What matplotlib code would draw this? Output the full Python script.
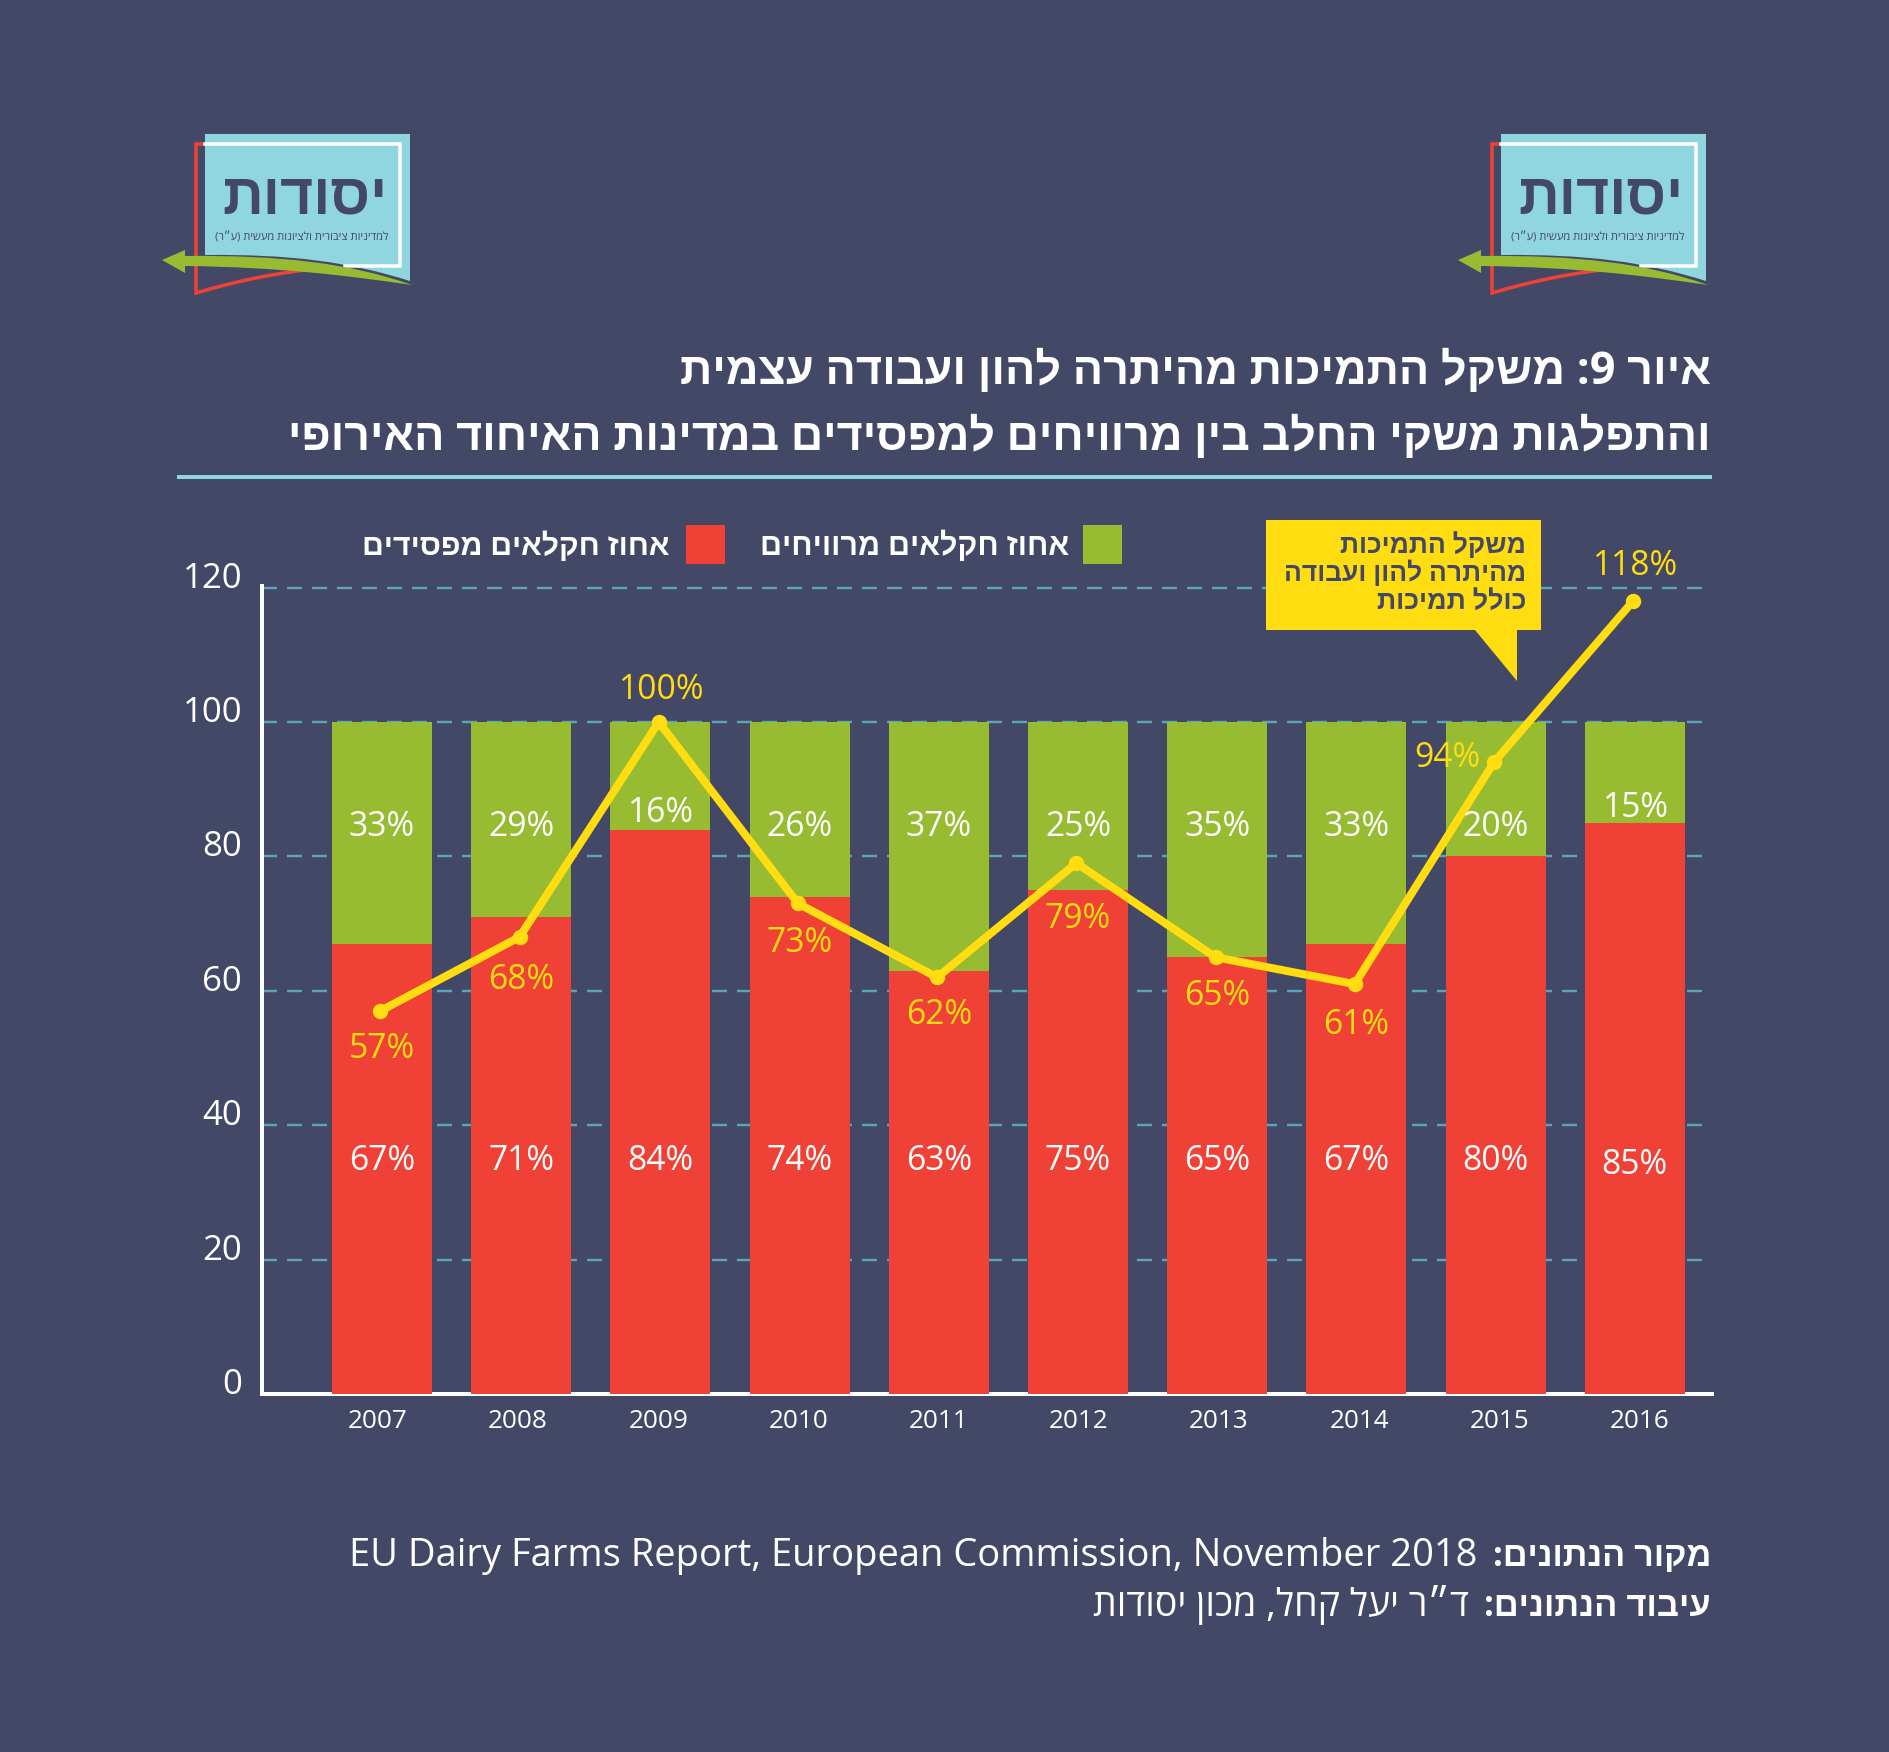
import matplotlib
matplotlib.use("Agg")
import matplotlib.pyplot as plt
from matplotlib.path import Path
from matplotlib.patches import PathPatch, Polygon, Rectangle

# ---- data ----
years = [2007, 2008, 2009, 2010, 2011, 2012, 2013, 2014, 2015, 2016]
loss_share = [67, 71, 84, 74, 63, 75, 65, 67, 80, 85]
profit_share = [33, 29, 16, 26, 37, 25, 35, 33, 20, 15]
support_weight = [57, 68, 100, 73, 62, 79, 65, 61, 94, 118]
y_ticks = [0, 20, 40, 60, 80, 100, 120]

title_lines = ["איור 9: משקל התמיכות מהיתרה להון ועבודה עצמית",
               "והתפלגות משקי החלב בין מרוויחים למפסידים במדינות האיחוד האירופי"]
legend_profit = "אחוז חקלאים מרוויחים"
legend_loss = "אחוז חקלאים מפסידים"
callout_lines = ["משקל התמיכות", "מהיתרה להון ועבודה", "כולל תמיכות"]
source_label = "מקור הנתונים:"
source_text = "EU Dairy Farms Report, European Commission, November 2018"
proc_label = "עיבוד הנתונים:"
proc_text = "ד״ר יעל קחל, מכון יסודות"
logo_name = "יסודות"
logo_sub = "למדיניות ציבורית ולציונות מעשית (ע״ר)"

# ---- style ----
W, H = 1890, 1752
BG, RED, GREEN, YELLOW = "#444867", "#EF4136", "#97BB31", "#FFDD10"
CYAN, GRID = "#8FD6DF", "#5BA6B6"
FONT = ["Open Sans", "Liberation Sans", "DejaVu Sans"]
plt.rcParams["font.family"] = FONT
PX = 72 / 100  # points per pixel at dpi 100

# Vertical centres of the value labels, in data units
green_label_y = [84.4, 84.4, 86.5, 84.4, 84.4, 84.4, 84.4, 84.4, 84.4, 87.2]
red_label_y = [34.6, 34.6, 34.6, 34.6, 34.6, 34.6, 34.6, 34.6, 34.6, 34.1]
line_label_y = [51.3, 61.6, 104.8, 67.1, 56.4, 70.7, 59.2, 54.9, 94.6, 123.2]
line_label_dx = [0, 0, 0, 0, 0, 0, 0, 0, -0.345, 0]


def vis(s):
    """matplotlib has no bidi layout: produce visual order for Hebrew."""
    return s[::-1].translate(str.maketrans("()", ")("))


fig = plt.figure(figsize=(W / 100, H / 100), dpi=100, facecolor=BG)
renderer = fig.canvas.get_renderer()

# Overlay in image pixel coordinates for decoration and text
ov = fig.add_axes([0, 0, 1, 1], zorder=3)
ov.set_xlim(0, W)
ov.set_ylim(H, 0)
ov.axis("off")


def fit_text(s, xr, yb, width, color="white", weight="normal", z=6):
    t = ov.text(xr, yb, s, ha="right", va="baseline", color=color,
                fontweight=weight, fontsize=20, zorder=z)
    w = t.get_window_extent(renderer).width
    t.set_fontsize(20 * width / w)
    return t


# ---- main chart ----
X0, X1, Y0, Y1 = 262, 1712, 1394, 586
PITCH, C0, UNIT = 139.2, 382, 6.72
ax = fig.add_axes([X0 / W, 1 - Y0 / H, (X1 - X0) / W, (Y0 - Y1) / H], zorder=2)
ax.set_facecolor("none")
ax.set_xlim((X0 - C0) / PITCH, (X1 - C0) / PITCH)
ax.set_ylim(0, (Y0 - Y1) / UNIT)
xs = list(range(len(years)))

ax.bar(xs, loss_share, width=100 / PITCH, color=RED, zorder=3)
ax.bar(xs, profit_share, width=100 / PITCH, bottom=loss_share, color=GREEN, zorder=3)
for v in y_ticks[1:]:
    ax.axhline(v, color=GRID, lw=2.4 * PX, dashes=(15 / 2.4, 10 / 2.4), zorder=2)
ax.plot([x - 0.012 for x in xs], support_weight, color=YELLOW, lw=8 * PX, marker="o",
        ms=14 * PX, solid_joinstyle="miter", zorder=4)

for i in xs:
    ax.text(i, red_label_y[i], f"{loss_share[i]}%", color="white", fontsize=24.2,
            ha="center", va="center", zorder=6)
    ax.text(i, green_label_y[i], f"{profit_share[i]}%", color="white", fontsize=24.2,
            ha="center", va="center", zorder=6)
    ax.text(i + line_label_dx[i], line_label_y[i], f"{support_weight[i]}%", color=YELLOW,
            fontsize=24.2, ha="center", va="center", zorder=5, clip_on=False)

for s in ("top", "right"):
    ax.spines[s].set_visible(False)
for s in ("left", "bottom"):
    ax.spines[s].set_color("white")
    ax.spines[s].set_linewidth(4 * PX)
ax.set_xticks([x * 1.0072 - 0.03 for x in xs], [str(y) for y in years])
ax.set_yticks(y_ticks, [str(v) for v in y_ticks])
ax.tick_params(axis="x", length=0, pad=11, labelsize=18.8, labelcolor="white")
ax.tick_params(axis="y", length=0, pad=20 * PX, labelsize=25, labelcolor="white")
for lab in ax.get_yticklabels():
    lab.set_va("baseline")

# ---- title, rule ----
fit_text(vis(title_lines[0]), 1711, 384, 1030, weight="bold")
fit_text(vis(title_lines[1]), 1711, 450, 1424, weight="bold")
ov.plot([177, 1712], [477, 477], color=CYAN, lw=4 * PX, solid_capstyle="butt")

# ---- legend ----
ov.add_patch(Rectangle((1083, 525), 39, 39, color=GREEN, lw=0))
ov.add_patch(Rectangle((686, 525), 39, 39, color=RED, lw=0))
fit_text(vis(legend_profit), 1069, 555, 309, weight="bold")
fit_text(vis(legend_loss), 670, 555, 307, weight="bold")

# ---- callout ----
ov.add_patch(Polygon([(1266, 520), (1541, 520), (1541, 630), (1517, 630), (1517, 681),
                      (1475, 630), (1266, 630)], closed=True, color=YELLOW, lw=0, zorder=5))
fit_text(vis(callout_lines[0]), 1526, 553, 186, color=BG, weight="bold")
fit_text(vis(callout_lines[1]), 1526, 581, 242, color=BG, weight="bold")
fit_text(vis(callout_lines[2]), 1526, 609, 150, color=BG, weight="bold")

# ---- footer ----
fit_text(vis(source_label), 1711, 1566, 219, weight="bold")
fit_text(source_text, 1477, 1566, 1125)
fit_text(vis(proc_label), 1711, 1616, 227, weight="bold")
fit_text(vis(proc_text), 1469, 1616, 376)


# ---- logos ----
def logo(dx):
    C, M, L = Path.CURVE4, Path.MOVETO, Path.LINETO
    red = Path([(205 + dx, 144), (196 + dx, 144), (196 + dx, 293),
                (240 + dx, 280), (280 + dx, 272), (325 + dx, 268)],
               [M, L, L, C, C, C])
    ov.add_patch(PathPatch(red, fc="none", ec=RED, lw=3.5 * PX, zorder=1))
    cy = Path([(205 + dx, 134), (410 + dx, 134), (410 + dx, 281),
               (350 + dx, 262), (290 + dx, 254), (205 + dx, 255), (205 + dx, 134)],
              [M, L, L, C, C, C, L])
    ov.add_patch(PathPatch(cy, fc=CYAN, ec="none", zorder=2))
    ov.plot([205 + dx, 400 + dx, 400 + dx, 345 + dx], [144, 144, 266, 266],
            color="white", lw=3.5 * PX, zorder=3, solid_joinstyle="miter")
    band = Path([(185 + dx, 256), (280 + dx, 255), (350 + dx, 263), (412 + dx, 285),
                 (350 + dx, 276), (280 + dx, 267), (185 + dx, 266), (185 + dx, 256)],
                [M, C, C, C, C, C, C, L])
    ov.add_patch(PathPatch(band, fc=GREEN, ec="none", zorder=4))
    ov.add_patch(Polygon([(162 + dx, 260), (185 + dx, 250), (185 + dx, 273)], closed=True,
                         color=GREEN, lw=0, zorder=4))
    fit_text(vis(logo_name), 388 + dx, 214, 165, color=BG, weight="bold")
    fit_text(vis(logo_sub), 388 + dx, 240, 173, color=BG)


logo(0)
logo(1296)

fig.savefig("out.png", dpi=100, facecolor=BG)
